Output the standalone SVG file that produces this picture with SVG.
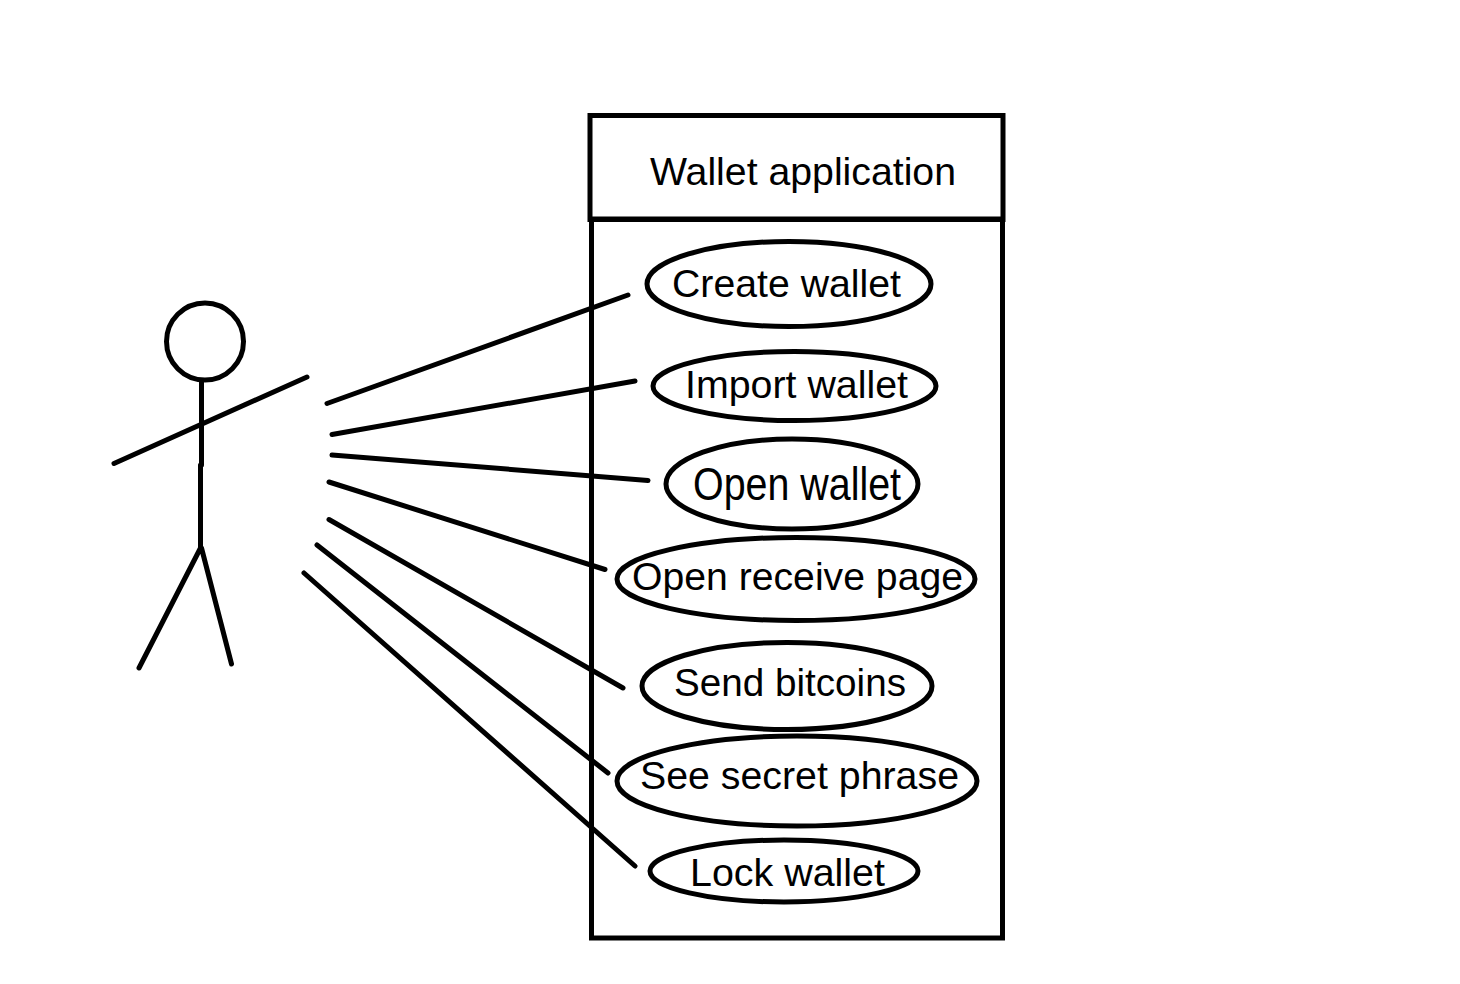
<svg xmlns="http://www.w3.org/2000/svg" width="1460" height="984" viewBox="0 0 1460 984">
<style>
.s{fill:none;stroke:#000;stroke-width:5;stroke-linecap:round}
.e{fill:none;stroke:#000;stroke-width:5}
.c{fill:none;stroke:#000;stroke-width:5;stroke-linecap:round}
text{font-family:"Liberation Sans",Arial,sans-serif;font-size:39px;fill:#000}
</style>
<rect width="1460" height="984" fill="#fff"/>
<g id="actor">
<circle class="e" cx="205" cy="341.500" r="38.500"/>
<path class="s" d="M201.500 381V465M200.500 465V548M114 463.500L307 377M200.500 548L139 668M201.500 548L231.500 664"/>
</g>
<g id="system">
<rect class="e" x="591.500" y="219" width="411" height="719"/>
<rect class="e" x="590" y="115.500" width="413" height="104"/>
<text x="650" y="185" textLength="306" lengthAdjust="spacingAndGlyphs">Wallet application</text>
</g>
<g id="connectors">
<path class="c" d="M327 403.500L628 295M332 434.500L635 381M332 455L648 480.500M329 482L605 569.500M329 519.500L623 688M317 545L608 773M304 573L635 866"/>
</g>
<g id="uc1"><ellipse class="e" cx="789" cy="284" rx="142" ry="42.500"/><text x="672" y="297" textLength="229" lengthAdjust="spacingAndGlyphs">Create wallet</text></g>
<g id="uc2"><ellipse class="e" cx="794.500" cy="386" rx="141.500" ry="34.500"/><text x="685" y="398" textLength="223" lengthAdjust="spacingAndGlyphs">Import wallet</text></g>
<g id="uc3"><ellipse class="e" cx="792" cy="484" rx="126" ry="45"/><text x="693" y="500" style="font-size:46px" textLength="208" lengthAdjust="spacingAndGlyphs">Open wallet</text></g>
<g id="uc4"><ellipse class="e" cx="796" cy="579" rx="179" ry="41.500"/><text x="632" y="590" textLength="331" lengthAdjust="spacingAndGlyphs">Open receive page</text></g>
<g id="uc5"><ellipse class="e" cx="787" cy="686" rx="145" ry="43.500"/><text x="674" y="696" textLength="232" lengthAdjust="spacingAndGlyphs">Send bitcoins</text></g>
<g id="uc6"><ellipse class="e" cx="797" cy="781" rx="180" ry="45"/><text x="640" y="789" textLength="319" lengthAdjust="spacingAndGlyphs">See secret phrase</text></g>
<g id="uc7"><ellipse class="e" cx="784" cy="871" rx="134" ry="31"/><text x="690" y="886" textLength="195" lengthAdjust="spacingAndGlyphs">Lock wallet</text></g>
</svg>
